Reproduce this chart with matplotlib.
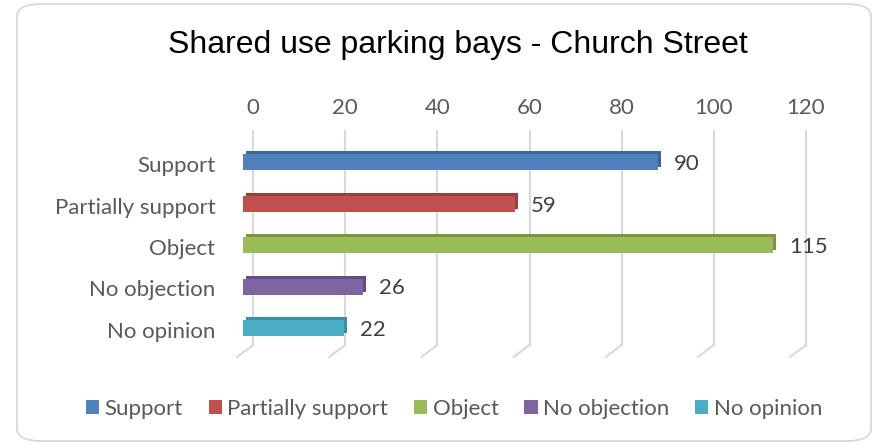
import matplotlib.pyplot as plt
import matplotlib.patches as mpatches
import matplotlib.transforms as mtransforms
from matplotlib.patches import FancyBboxPatch

categories = ["Support", "Partially support", "Object", "No objection", "No opinion"]
values = [90, 59, 115, 26, 22]
colors = ["#4F81BD", "#C0504D", "#9BBB59", "#8064A2", "#4BACC6"]
dark = ["#3D6798", "#9A3F3C", "#7A9645", "#654C84", "#3890A8"]
xticks = [0, 20, 40, 60, 80, 100, 120]

W, H = 875, 445
fig = plt.figure(figsize=(W / 100, H / 100), dpi=100)
fig.patch.set_facecolor("white")

# rounded chart border
border = FancyBboxPatch((17 / W, 4 / H), 854 / W, 437 / H,
                        boxstyle="round,pad=0,rounding_size=0.028",
                        transform=fig.transFigure, facecolor="none",
                        edgecolor="#d9d9d9", linewidth=1.3, zorder=0)
fig.patches.append(border)

# axes: x 0..120 maps 253..806 px, vertical grid part 131..345 px
left, right = 253, 806
top, bottom = 131, 345
ax = fig.add_axes([left / W, 1 - bottom / H, (right - left) / W, (bottom - top) / H])
ax.set_facecolor("none")
ax.set_xlim(0, 120)
y0 = 160.0
step = 41.5
ax.set_ylim((bottom - y0) / step, (top - y0) / step)
for s in ax.spines.values():
    s.set_visible(False)

# back-wall gridlines with slanted floor segment
ylo, yhi = ax.get_ylim()
for t in xticks:
    ax.plot([t, t], [ylo, yhi], color="#d9d9d9", lw=1.5, zorder=1, clip_on=False)
    ax.annotate("", xy=(t, ylo), xycoords="data",
                xytext=(-16, -12), textcoords="offset pixels",
                arrowprops=dict(arrowstyle="-", color="#d9d9d9", lw=1.5,
                                shrinkA=0, shrinkB=0))

# bars: darker extruded back face + front face, shifted left
front = ax.transData + mtransforms.ScaledTranslation(-10 / 100, -2 / 100, fig.dpi_scale_trans)
back = ax.transData + mtransforms.ScaledTranslation(-7 / 100, 1 / 100, fig.dpi_scale_trans)
bh = 16 / step
for i, (v, c, d) in enumerate(zip(values, colors, dark)):
    ax.add_patch(mpatches.Rectangle((0, i - bh / 2), v, bh, facecolor=d,
                                    edgecolor="none", transform=back, zorder=3,
                                    clip_on=False))
    ax.add_patch(mpatches.Rectangle((0, i - bh / 2), v, bh, facecolor=c,
                                    edgecolor="none", transform=front, zorder=4,
                                    clip_on=False))
    ax.annotate(str(v), xy=(v, i), xytext=(6, -4), textcoords="offset pixels",
                ha="left", va="center", fontsize=16, family="Lato",
                color="#404040", zorder=5)

ax.set_xticks(xticks)
ax.set_xticklabels([str(t) for t in xticks], family="Lato", fontsize=16, color="#595959")
ax.xaxis.tick_top()
ax.tick_params(axis="x", length=0, pad=9)
ax.set_yticks(range(len(categories)))
ax.set_yticklabels(categories, family="Lato", fontsize=16, color="#595959")
ax.tick_params(axis="y", length=0, pad=27)
shift = mtransforms.ScaledTranslation(0, -4 / 100, fig.dpi_scale_trans)
for lab in ax.get_yticklabels():
    lab.set_transform(lab.get_transform() + shift)

fig.text(458 / W, 1 - 45 / H, "Shared use parking bays - Church Street",
         ha="center", va="center", fontsize=23, family="Liberation Sans",
         color="black")

handles = [mpatches.Patch(facecolor=c, label=l) for c, l in zip(colors, categories)]
fig.legend(handles=handles, loc="center", bbox_to_anchor=(454 / W, 1 - 409 / H),
           ncol=5, frameon=False, prop={"family": "Lato", "size": 16},
           labelcolor="#595959", handlelength=0.6, handleheight=0.6,
           handletextpad=0.25, columnspacing=1.15)

fig.savefig("out.png", dpi=100)
